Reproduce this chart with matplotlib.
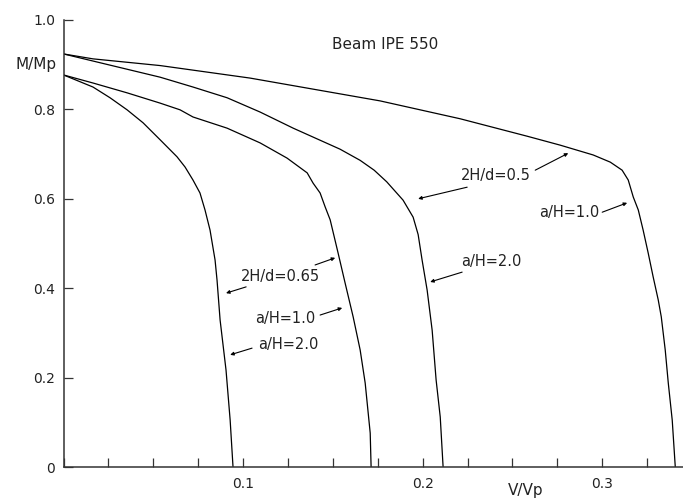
import matplotlib
matplotlib.use("Agg")
import matplotlib.pyplot as plt
from matplotlib.ticker import MultipleLocator

# interaction curves M/Mp vs V/Vp
# curve 1: 2H/d=0.5, a/H=1.0
v1 = [0.0, 0.0164, 0.0538, 0.1039, 0.1763, 0.2209, 0.2582, 0.2766, 0.2950,
      0.3045, 0.3111, 0.3145, 0.3173, 0.3201, 0.3228, 0.3256, 0.3284, 0.3312,
      0.3329, 0.3351, 0.3368, 0.3390, 0.3407]
m1 = [0.924, 0.913, 0.898, 0.870, 0.819, 0.779, 0.740, 0.720, 0.698,
      0.682, 0.664, 0.642, 0.604, 0.575, 0.530, 0.479, 0.425, 0.374,
      0.336, 0.262, 0.188, 0.105, 0.0]
# curve 2: 2H/d=0.5, a/H=2.0
v2 = [0.0, 0.0538, 0.0721, 0.0911, 0.1095, 0.1279, 0.1540, 0.1652, 0.1730,
      0.1800, 0.1891, 0.1947, 0.1975, 0.1997, 0.2025, 0.2053, 0.2075,
      0.2098, 0.2114]
m2 = [0.924, 0.872, 0.850, 0.826, 0.794, 0.758, 0.711, 0.686, 0.664,
      0.638, 0.597, 0.559, 0.520, 0.463, 0.396, 0.306, 0.195,
      0.112, 0.0]
# curve 3: 2H/d=0.65, a/H=1.0
v3 = [0.0, 0.0164, 0.0354, 0.0538, 0.0649, 0.0721, 0.0911, 0.1095,
      0.1245, 0.1357, 0.1390, 0.1429, 0.1457, 0.1485, 0.1529, 0.1568, 0.1613,
      0.1652, 0.1680, 0.1708, 0.1713]
m3 = [0.877, 0.859, 0.837, 0.814, 0.799, 0.783, 0.758, 0.725,
      0.691, 0.658, 0.635, 0.613, 0.582, 0.553, 0.479, 0.412, 0.336,
      0.262, 0.188, 0.076, 0.0]
# curve 4: 2H/d=0.65, a/H=2.0
v4 = [0.0, 0.0164, 0.0259, 0.0354, 0.0443, 0.0538, 0.0632, 0.0677, 0.0721,
      0.0760, 0.0788, 0.0816, 0.0844, 0.0855, 0.0872, 0.0905, 0.0928, 0.0944]
m4 = [0.877, 0.850, 0.826, 0.799, 0.770, 0.732, 0.694, 0.671, 0.642,
      0.613, 0.575, 0.530, 0.463, 0.418, 0.329, 0.217, 0.105, 0.0]

# labels: text, text position, list of arrow tails and heads
labels = ["2H/d=0.5", "a/H=1.0", "a/H=2.0", "2H/d=0.65", "a/H=1.0", "a/H=2.0"]
label_pos = [(0.241, 0.651), (0.2816, 0.570), (0.2385, 0.459),
             (0.1206, 0.427), (0.1234, 0.333), (0.125, 0.275)]
arrow_tail = [[(0.2248, 0.626), (0.2627, 0.664)], [(0.3000, 0.570)],
              [(0.222, 0.436)], [(0.1017, 0.403), (0.1401, 0.452)],
              [(0.1429, 0.340)], [(0.105, 0.266)]]
arrow_head = [[(0.1975, 0.600), (0.2811, 0.702)], [(0.3139, 0.591)],
              [(0.2042, 0.414)], [(0.0905, 0.389), (0.1513, 0.468)],
              [(0.1552, 0.356)], [(0.0928, 0.251)]]

fig = plt.figure(figsize=(6.83, 4.99), dpi=100)
ax = fig.add_axes([0.093, 0.064, 0.907, 0.896])

for v, m in [(v1, m1), (v2, m2), (v3, m3), (v4, m4)]:
    ax.plot(v, m, color="black", lw=0.9, solid_joinstyle="round")

for txt, pos, tails, heads in zip(labels, label_pos, arrow_tail, arrow_head):
    ax.text(pos[0], pos[1], txt, ha="center", va="center", fontsize=10.5, color="#222222")
    for t, h in zip(tails, heads):
        ax.annotate("", xy=h, xytext=t,
                    arrowprops=dict(arrowstyle="-|>", lw=0.8, color="black",
                                    mutation_scale=5, shrinkA=0, shrinkB=0))

ax.text(0.179, 0.944, "Beam IPE 550", ha="center", va="center", fontsize=11, color="#222222")

ax.set_xlim(0, 0.345)
ax.set_ylim(0, 1.0)
ax.spines["top"].set_visible(False)
ax.spines["right"].set_visible(False)
for s in ["left", "bottom"]:
    ax.spines[s].set_linewidth(1.1)
    ax.spines[s].set_color("#333333")

ax.xaxis.set_minor_locator(MultipleLocator(0.025))
ax.set_xticks([0.1, 0.2, 0.3])
ax.set_xticklabels(["0.1", "0.2", "0.3"])
ax.set_yticks([0, 0.2, 0.4, 0.6, 0.8, 1.0])
ax.set_yticklabels(["0", "0.2", "0.4", "0.6", "0.8", "1.0"])
ax.tick_params(axis="both", which="both", direction="in", length=6.5, width=0.9,
               color="#333333", labelsize=10, labelcolor="#222222")
ax.tick_params(axis="x", pad=7)
ax.tick_params(axis="y", pad=6)

fig.text(0.053, 0.870, "M/Mp", ha="center", va="center", fontsize=11, color="#222222")
fig.text(0.770, 0.018, "V/Vp", ha="center", va="center", fontsize=11, color="#222222")

fig.savefig("out.png", dpi=100)
